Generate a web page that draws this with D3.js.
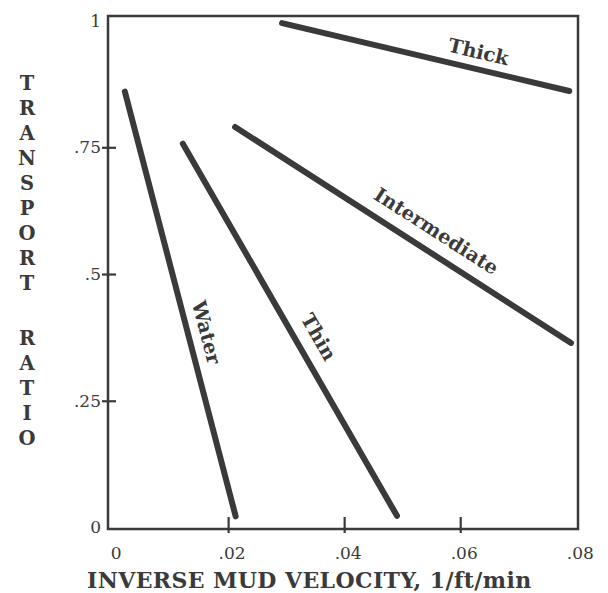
<!DOCTYPE html>
<html><head><meta charset="utf-8">
<script src="https://cdn.jsdelivr.net/npm/d3@7/dist/d3.min.js"></script>
<style>
body{margin:0;background:#fff;}
svg{display:block;}
</style></head>
<body>
<svg id="c" width="608" height="593"></svg>
<script>
// ---- data ----
const seriesNames = ["Water", "Thin", "Intermediate", "Thick"];
const waterX = [0.0022, 0.0213];
const waterY = [0.86, 0.022];
const thinX = [0.0122, 0.0491];
const thinY = [0.757, 0.023];
const intermediateX = [0.0212, 0.0791];
const intermediateY = [0.790, 0.364];
const thickX = [0.0293, 0.0788];
const thickY = [0.995, 0.861];
const xTickValues = [0, 0.02, 0.04, 0.06, 0.08];
const xTickLabels = ["0", ".02", ".04", ".06", ".08"];
const xTickMarks = [0.02, 0.04, 0.06];
const yTickValues = [0, 0.25, 0.5, 0.75, 1];
const yTickLabels = ["0", ".25", ".5", ".75", "1"];
const yTickMarks = [0.25, 0.5, 0.75];
const xTitle = "INVERSE MUD VELOCITY, 1/ft/min";
const yTitle = "TRANSPORT RATIO";

// ---- layout ----
const svg = d3.select("#c");
const L = 108, R = 578, T = 16, B = 529;
const x = d3.scaleLinear().domain([-0.0007, 0.0803]).range([L, R]);
const y = d3.scaleLinear().domain([-0.003, 1.009]).range([B, T]);
const ink = "#3a3a3a";
const serif = "'DejaVu Serif', serif";

// frame
svg.append("rect").attr("x", L).attr("y", T).attr("width", R - L).attr("height", B - T)
  .attr("fill", "none").attr("stroke", ink).attr("stroke-width", 2.5);

// x axis
const xAxis = svg.append("g").attr("transform", `translate(0,${B})`)
  .call(d3.axisBottom(x).tickValues(xTickMarks).tickSize(4).tickFormat(""));
xAxis.select(".domain").remove();
xAxis.selectAll(".tick line").attr("y1", -12).attr("y2", 4).attr("stroke", ink).attr("stroke-width", 2.2);
svg.append("g").selectAll("text").data(xTickValues).join("text")
  .attr("x", d => x(d) + 4).attr("y", 553).attr("dominant-baseline", "central")
  .attr("text-anchor", "middle").attr("font-family", serif).attr("font-size", 17)
  .attr("fill", ink).text((d, i) => xTickLabels[i]);

// y axis
const yAxis = svg.append("g").attr("transform", `translate(${L},0)`)
  .call(d3.axisLeft(y).tickValues(yTickMarks).tickSize(6).tickFormat(""));
yAxis.select(".domain").remove();
yAxis.selectAll(".tick line").attr("x1", -6).attr("x2", 8).attr("stroke", ink).attr("stroke-width", 2.2);
svg.append("g").selectAll("text").data(yTickValues).join("text")
  .attr("x", 101).attr("y", d => Math.max(y(d), 18)).attr("dominant-baseline", "central")
  .attr("text-anchor", "end").attr("font-family", serif).attr("font-size", 17)
  .attr("fill", ink).text((d, i) => yTickLabels[i]);

// titles
svg.append("text").attr("x", 87).attr("y", 588)
  .attr("font-family", serif).attr("font-weight", "bold").attr("font-size", 22)
  .attr("letter-spacing", 0.4)
  .attr("fill", ink).text(xTitle);

const letters = yTitle.split("");
svg.append("g").selectAll("text").data(letters).join("text")
  .attr("x", 27).attr("y", (d, i) => 83 + i * 25 + (i > 9 ? 5 : 0))
  .attr("dominant-baseline", "central").attr("text-anchor", "middle")
  .attr("font-family", serif).attr("font-weight", "bold").attr("font-size", 19.5)
  .attr("fill", ink).text(d => d);

// lines
const series = [
  {name: seriesNames[0], xs: waterX, ys: waterY, t: 0.578, off: 18},
  {name: seriesNames[1], xs: thinX, ys: thinY, t: 0.548, off: 21},
  {name: seriesNames[2], xs: intermediateX, ys: intermediateY, t: 0.565, off: 21},
  {name: seriesNames[3], xs: thickX, ys: thickY, t: 0.67, off: 17}
];
const line = d3.line().x(d => x(d[0])).y(d => y(d[1]));
svg.append("g").selectAll("path").data(series).join("path")
  .attr("d", s => line(s.xs.map((v, i) => [v, s.ys[i]])))
  .attr("fill", "none").attr("stroke", ink).attr("stroke-width", 6).attr("stroke-linecap", "round");

svg.append("g").selectAll("text").data(series).join("text")
  .each(function(s) {
    const x0 = x(s.xs[0]), y0 = y(s.ys[0]), x1 = x(s.xs[1]), y1 = y(s.ys[1]);
    const dx = x1 - x0, dy = y1 - y0, len = Math.hypot(dx, dy);
    const ux = dx / len, uy = dy / len;
    const px = x0 + dx * s.t + uy * s.off, py = y0 + dy * s.t - ux * s.off;
    const ang = Math.atan2(dy, dx) * 180 / Math.PI;
    d3.select(this).attr("transform", `translate(${px},${py}) rotate(${ang})`);
  })
  .attr("text-anchor", "middle").attr("dominant-baseline", "central")
  .attr("font-family", serif).attr("font-weight", "bold").attr("font-size", 19.5)
  .attr("fill", ink).text(s => s.name);
</script>
</body></html>
